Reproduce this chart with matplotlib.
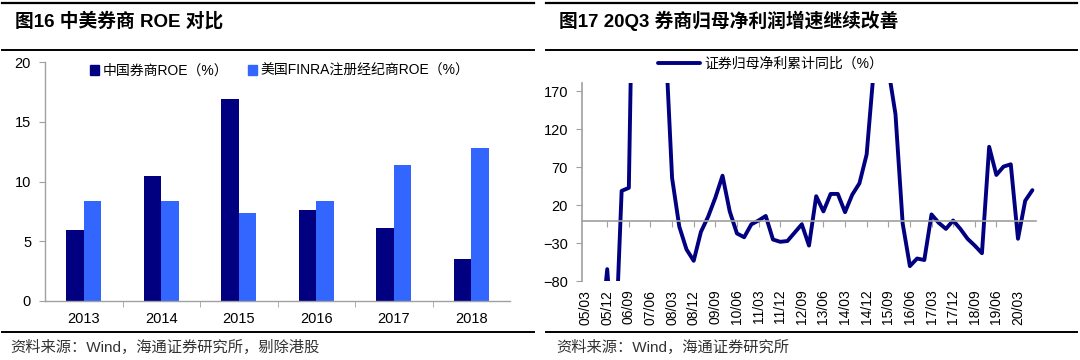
import numpy as np
import matplotlib
matplotlib.use("Agg")
import matplotlib.pyplot as plt
from matplotlib.lines import Line2D
from matplotlib.patches import Patch

# -------------------
# Data
# -------------------
years = ["2013", "2014", "2015", "2016", "2017", "2018"]
roe_china = [5.9, 10.5, 16.9, 7.6, 6.1, 3.5]
roe_us = [8.4, 8.4, 7.4, 8.4, 11.4, 12.8]

# quarterly cumulative yoy of brokers' net profit, 05/03 .. 20/09
profit_yoy = [
    np.nan, np.nan, -160, -64,          # 2005
    -200, 39, 43, 600,                  # 2006
    520, 450, 380, 255,                 # 2007
    56, -8, -38, -53,                   # 2008
    -15, 5, 30, 59,                     # 2009
    12, -17, -22, -5,                   # 2010
    0, 6, -25, -28,                     # 2011
    -27, -16, -5, -33,                  # 2012
    32, 12, 35, 35,                     # 2013
    11, 34, 49, 87,                     # 2014
    200, 260, 200, 140,                 # 2015
    -4, -60, -50, -52,                  # 2016
    8, -3, -11, 0,                      # 2017
    -11, -24, -33, -43,                 # 2018
    97, 60, 71, 74,                     # 2019
    -24, 26, 40,                        # 2020
]
quarter_ticks = ["05/03", "05/12", "06/09", "07/06", "08/03", "08/12", "09/09",
                 "10/06", "11/03", "11/12", "12/09", "13/06", "14/03", "14/12",
                 "15/09", "16/06", "17/03", "17/12", "18/09", "19/06", "20/03"]

NAVY = "#000080"
LIGHT = "#3366FF"
GRID = "#A0A0A0"

plt.rcParams["font.family"] = ["Liberation Sans", "Noto Sans CJK SC", "DejaVu Sans"]
plt.rcParams["font.size"] = 10

W, H = 1080, 360


def fx(x):
    return x / W


def fy(y):
    return 1 - y / H


fig = plt.figure(figsize=(W / 100, H / 100), dpi=100)


def rule(x0, x1, y, lw=1.5):
    fig.add_artist(Line2D([fx(x0), fx(x1)], [fy(y), fy(y)],
                          transform=fig.transFigure, color="black", lw=lw))


# frame lines and captions
for x0, x1 in [(2, 534), (546, 1077)]:
    rule(x0, x1, 3, 1.6)
    rule(x0, x1, 50, 1.4)
    rule(x0, x1, 332, 1.4)

fig.text(fx(15), fy(21), "图16 中美券商 ROE 对比", fontsize=13.5, fontweight="bold",
         va="center", ha="left")
fig.text(fx(559), fy(21), "图17 20Q3 券商归母净利润增速继续改善", fontsize=13.5,
         fontweight="bold", va="center", ha="left")
fig.text(fx(10), fy(347), "资料来源：Wind，海通证券研究所，剔除港股", fontsize=11,
         color="#333333", va="center", ha="left")
fig.text(fx(556), fy(347), "资料来源：Wind，海通证券研究所", fontsize=11,
         color="#333333", va="center", ha="left")

# -------------------
# Left: ROE bars
# -------------------
ax1 = fig.add_axes([fx(45), fy(301), fx(510) - fx(45), fy(62) - fy(301)])
x = np.arange(len(years))
bw = 0.225
ax1.bar(x - bw / 2, roe_china, width=bw, color=NAVY)
ax1.bar(x + bw / 2, roe_us, width=bw, color=LIGHT)
ax1.set_xlim(-0.5, len(years) - 0.5)
ax1.set_ylim(0, 20)
ax1.set_yticks([0, 5, 10, 15, 20])
ax1.set_xticks(x)
ax1.set_xticklabels(years)
ax1.set_xticks(np.arange(0.5, len(years) - 0.5, 1), minor=True)
ax1.tick_params(axis="x", which="major", length=0, pad=8, labelsize=10.5)
ax1.tick_params(axis="x", which="minor", length=4, color=GRID, direction="out")
ax1.tick_params(axis="y", length=4, color=GRID, direction="out", pad=6, labelsize=10.5)
for s in ["top", "right"]:
    ax1.spines[s].set_visible(False)
for s in ["left", "bottom"]:
    ax1.spines[s].set_color(GRID)
    ax1.spines[s].set_linewidth(1.0)

handles = [Patch(color=NAVY), Patch(color=LIGHT)]
fig.legend(handles, ["中国券商ROE（%）", "美国FINRA注册经纪商ROE（%）"],
           loc="center left", bbox_to_anchor=(fx(90), fy(71)), ncol=2,
           frameon=False, fontsize=10, handlelength=0.65, handleheight=0.65,
           handletextpad=0.25, columnspacing=1.4, borderpad=0, borderaxespad=0)

# -------------------
# Right: profit growth line
# -------------------
ax2 = fig.add_axes([fx(582), fy(281.3), fx(1036) - fx(582), fy(83) - fy(281.3)])
xq = np.arange(len(profit_yoy))
ax2.plot(xq, profit_yoy, color=NAVY, lw=2.8, solid_joinstyle="round",
         solid_capstyle="round", label="证券归母净利累计同比（%）")
ax2.set_xlim(-0.5, len(profit_yoy) - 0.5)
ax2.set_ylim(-80, 181)
ax2.set_yticks([-80, -30, 20, 70, 120, 170])
ax2.tick_params(axis="y", length=4, color=GRID, direction="out", pad=6, labelsize=10.5)

tick_pos = np.arange(0, len(profit_yoy), 3)
ax2.spines["bottom"].set_position(("data", 0))
ax2.set_xticks(tick_pos[1:])
ax2.tick_params(axis="x", length=4, color=GRID, direction="out", labelbottom=False)
for s in ["top", "right"]:
    ax2.spines[s].set_visible(False)
for s in ["left", "bottom"]:
    ax2.spines[s].set_color(GRID)
    ax2.spines[s].set_linewidth(1.2)

sec = ax2.secondary_xaxis("bottom")
sec.set_xticks(tick_pos)
sec.set_xticklabels(quarter_ticks, rotation=90, fontsize=10)
sec.tick_params(length=0, pad=6)
sec.spines["bottom"].set_visible(False)

ax2.legend(loc="center left", bbox_to_anchor=(fx(658), fy(64)),
           bbox_transform=fig.transFigure, frameon=False, fontsize=10,
           handlelength=3.0, handletextpad=0.3, borderpad=0, borderaxespad=0)

fig.savefig("out.png", dpi=100)
